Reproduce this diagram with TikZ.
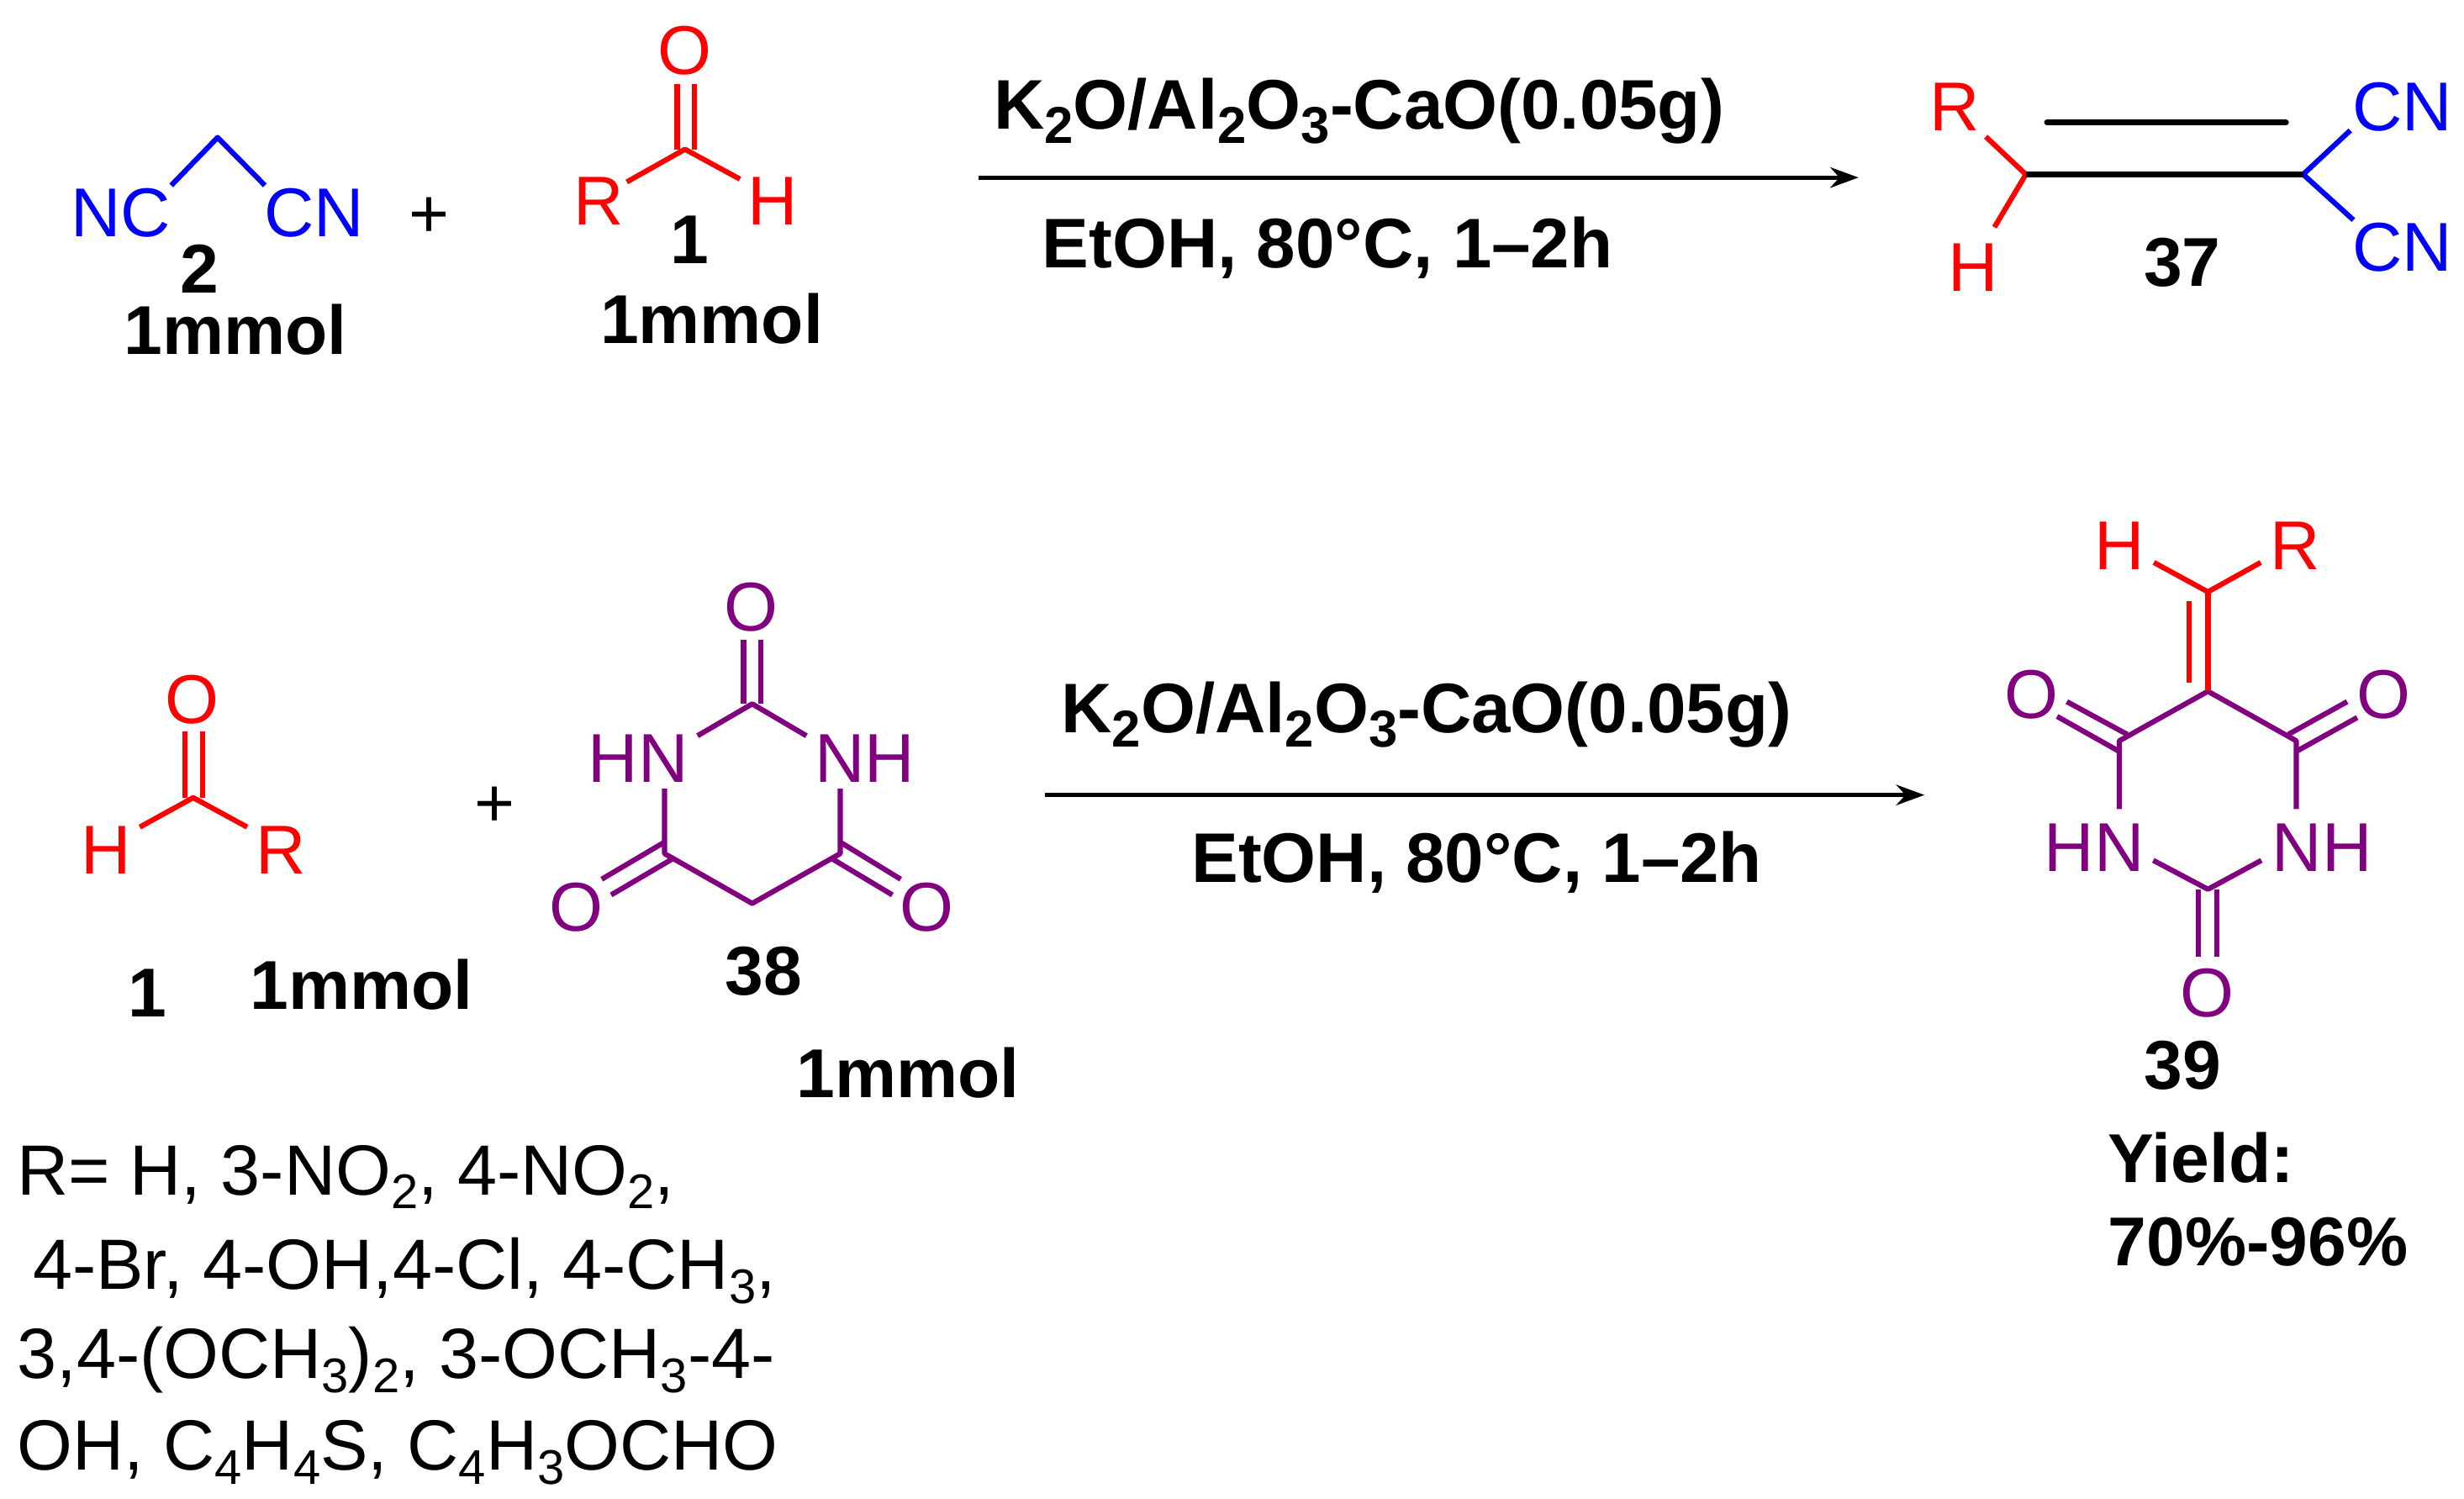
\documentclass[tikz,border=0pt]{standalone}
\usepackage{fontspec}
\setmainfont{Liberation Sans}
\usetikzlibrary{arrows.meta}
\definecolor{molblue}{RGB}{0,0,255}
\definecolor{molred}{RGB}{255,0,0}
\definecolor{molpurple}{RGB}{128,0,128}
\newcommand{\sbs}[1]{\raisebox{-0.2em}{\fontsize{31}{31}\selectfont #1}}
\newcommand{\sbc}[1]{\raisebox{-0.2em}{\fontsize{33}{33}\selectfont #1}}
\tikzset{
  txt/.style={inner sep=0pt,outer sep=0pt,text height=30.8pt,text depth=0pt,font=\fontsize{44}{44}\selectfont},
  bold/.style={txt,font=\fontsize{44}{44}\selectfont\bfseries},
  capn/.style={txt,font=\fontsize{44.7}{44.7}\selectfont\bfseries},
  atomblue/.style={txt,text=molblue},
  atomred/.style={txt,text=molred},
  atompurple/.style={txt,text=molpurple},
  note/.style={txt,anchor=west,font=\fontsize{45.3}{45.3}\selectfont},
  bondblue/.style={draw=molblue,line width=3.3pt,line join=round},
  bondred/.style={draw=molred,line width=3.3pt,line join=round},
  bondpurple/.style={draw=molpurple,line width=3.3pt,line join=round},
  bondblack/.style={draw=black,line width=3.8pt,line cap=round},
  rxn/.style={draw=black,line width=2.8pt,-{Stealth[length=18pt,width=13pt]}}
}
\begin{document}
\begin{tikzpicture}[x=1pt,y=-1pt]
\useasboundingbox (0,0) rectangle (1568.4,953.6);
% --- malononitrile 2
\node[atomblue] (nc) at (77,135) {NC};
\node[atomblue] (cn) at (200,135) {CN};
\coordinate (a1) at (109,118);
\coordinate (a2) at (138.5,87.5);
\coordinate (a3) at (168.6,118);
\draw[bondblue] (a1) -- (a2) -- (a3);
\node[txt] (plusa) at (273,136) {+};
\node[bold] (n2) at (127,171) {2};
\node[bold] (mm1) at (150,210) {1mmol};
% --- aldehyde 1 (top)
\node[atomred] (oa) at (436,32) {O};
\node[atomred] (ra) at (381,128) {R};
\node[atomred] (ha) at (492,128) {H};
\coordinate (ca) at (436,95);
\coordinate (cal) at (431,95);
\coordinate (car) at (442,95);
\coordinate (oal) at (431,53.5);
\coordinate (oar) at (442,53.5);
\coordinate (ra1) at (399,115.8);
\coordinate (ha1) at (471,114);
\draw[bondred] (oal) -- (cal) (oar) -- (car);
\draw[bondred] (ra1) -- (ca) -- (ha1);
\node[bold] (n1a) at (439,152.5) {1};
\node[bold] (mm2) at (453,203) {1mmol};
% --- first reaction arrow
\coordinate (arr1s) at (623,113);
\coordinate (arr1e) at (1183,113);
\draw[rxn] (arr1s) -- (arr1e);
\node[capn] (cat1) at (865,67) {K\sbc{2}O/Al\sbc{2}O\sbc{3}-CaO(0.05g)};
\node[capn] (cond1) at (845,155) {EtOH, 80°C, 1–2h};
% --- product 37
\node[atomred] (r37) at (1244,68) {R};
\node[atomred] (h37) at (1256,170) {H};
\node[atomblue] (cn37a) at (1529,68) {CN};
\node[atomblue] (cn37b) at (1529,157) {CN};
\coordinate (c37l) at (1289.5,111);
\coordinate (c37r) at (1466,111);
\coordinate (d37l) at (1303,78);
\coordinate (d37r) at (1455,78);
\coordinate (r37b) at (1264,87);
\coordinate (h37b) at (1269.5,144.6);
\coordinate (cn37ab) at (1496,83);
\coordinate (cn37bb) at (1498,140);
\draw[bondred] (r37b) -- (c37l) -- (h37b);
\draw[bondblue] (cn37ab) -- (c37r) -- (cn37bb);
\draw[bondblack,line cap=butt] (c37l) -- (c37r);
\draw[bondblack] (d37l) -- (d37r);
\node[bold] (n37) at (1389,167) {37};
% --- aldehyde 1 (bottom)
\node[atomred] (ob) at (122.5,445) {O};
\node[atomred] (hb) at (67.5,541) {H};
\node[atomred] (rb) at (179,541) {R};
\coordinate (cb) at (123,507.7);
\coordinate (cbl) at (117.8,507.7);
\coordinate (cbr) at (129,507.7);
\coordinate (obl) at (117.8,465.4);
\coordinate (obr) at (129,465.4);
\coordinate (hb1) at (89,526.4);
\coordinate (rb1) at (157.3,526.4);
\draw[bondred] (obl) -- (cbl) (obr) -- (cbr);
\draw[bondred] (hb1) -- (cb) -- (rb1);
\node[bold] (n1b) at (94,632) {1};
\node[bold] (mm3) at (230,627) {1mmol};
\node[txt] (plusb) at (315,511) {+};
% --- barbituric acid 38
\node[atompurple] (o38t) at (478,386) {O};
\node[atompurple] (hn38) at (406.3,482.5) {HN};
\node[atompurple] (nh38) at (550.5,482.5) {NH};
\node[atompurple] (o38l) at (367,577) {O};
\node[atompurple] (o38r) at (589.7,577) {O};
\coordinate (c38t) at (478.8,448);
\coordinate (d38a) at (473.3,407.3);
\coordinate (d38b) at (484.3,407.3);
\coordinate (d38c) at (473.3,448);
\coordinate (d38d) at (484.3,448);
\coordinate (b38a) at (444,468.3);
\coordinate (b38b) at (513.3,468.3);
\coordinate (v38l) at (423,502);
\coordinate (v38r) at (534.8,502);
\coordinate (c38l) at (423,543.3);
\coordinate (c38r) at (534.8,543.3);
\coordinate (c38b) at (478.8,575);
\coordinate (e38a) at (423,536);
\coordinate (e38b) at (383,559.6);
\coordinate (e38c) at (427.8,546.8);
\coordinate (e38d) at (389,569.6);
\coordinate (f38a) at (534.8,536);
\coordinate (f38b) at (573.3,559.6);
\coordinate (f38c) at (530,546.8);
\coordinate (f38d) at (568,569.6);
\draw[bondpurple] (d38a) -- (d38c) (d38b) -- (d38d);
\draw[bondpurple] (b38a) -- (c38t) -- (b38b);
\draw[bondpurple] (v38l) -- (c38l) -- (c38b) -- (c38r) -- (v38r);
\draw[bondpurple] (e38a) -- (e38b) (e38c) -- (e38d);
\draw[bondpurple] (f38a) -- (f38b) (f38c) -- (f38d);
\node[bold] (n38) at (486,618) {38};
\node[bold] (mm4) at (578,683) {1mmol};
% --- second reaction arrow
\coordinate (arr2s) at (665,506);
\coordinate (arr2e) at (1225,506);
\draw[rxn] (arr2s) -- (arr2e);
\node[capn] (cat2) at (908,451) {K\sbc{2}O/Al\sbc{2}O\sbc{3}-CaO(0.05g)};
\node[capn] (cond2) at (940,546) {EtOH, 80°C, 1–2h};
% --- product 39
\node[atomred] (h39) at (1349,347) {H};
\node[atomred] (r39) at (1461,347) {R};
\node[atompurple] (o39l) at (1293,442) {O};
\node[atompurple] (o39r) at (1517,442) {O};
\node[atompurple] (hn39) at (1333,539) {HN};
\node[atompurple] (nh39) at (1478,539) {NH};
\node[atompurple] (o39b) at (1405,632) {O};
\coordinate (c39t) at (1405.4,376.7);
\coordinate (c39m) at (1405.4,440);
\coordinate (c39l) at (1349,471.5);
\coordinate (c39r) at (1461.6,471.5);
\coordinate (c39b) at (1405.4,566);
\coordinate (h39b) at (1371,358);
\coordinate (r39b) at (1439,358);
\coordinate (i39a) at (1393.6,382.6);
\coordinate (i39b) at (1393.6,434.4);
\coordinate (v39l) at (1349,515);
\coordinate (v39r) at (1461.6,515);
\coordinate (n39l) at (1370.6,547.6);
\coordinate (n39r) at (1439.4,547.6);
\coordinate (b39a) at (1399.4,566);
\coordinate (b39b) at (1399.4,609);
\coordinate (b39c) at (1411,566);
\coordinate (b39d) at (1411,609);
\coordinate (l39a) at (1315.6,446.6);
\coordinate (l39b) at (1354,467.4);
\coordinate (l39c) at (1309.4,456);
\coordinate (l39d) at (1349,478.3);
\coordinate (r39e) at (1494,446.6);
\coordinate (r39f) at (1456.6,467.4);
\coordinate (r39g) at (1500.4,456.7);
\coordinate (r39i) at (1461.6,478.3);
\draw[bondpurple] (v39l) -- (c39l) -- (c39m) -- (c39r) -- (v39r);
\draw[bondpurple] (n39l) -- (c39b) -- (n39r);
\draw[bondpurple] (b39a) -- (b39b) (b39c) -- (b39d);
\draw[bondpurple] (l39a) -- (l39b) (l39c) -- (l39d);
\draw[bondpurple] (r39e) -- (r39f) (r39g) -- (r39i);
\draw[bondred] (c39m) -- (c39t);
\draw[bondred] (h39b) -- (c39t) -- (r39b);
\draw[bondred] (i39a) -- (i39b);
\node[bold] (n39) at (1389.5,678) {39};
\node[bold,anchor=west] (yl1) at (1342,737) {Yield:};
\node[bold,anchor=west] (yl2) at (1342,790) {70\%-96\%};
% --- substituent list
\node[note] (ln1) at (11,745) {R= H, 3-NO\sbs{2}, 4-NO\sbs{2},};
\node[note] (ln2) at (11,805) {\hspace{10pt}4-Br, 4-OH,4-Cl, 4-CH\sbs{3},};
\node[note] (ln3) at (11,862) {3,4-(OCH\sbs{3})\sbs{2}, 3-OCH\sbs{3}-4-};
\node[note] (ln4) at (11,920) {OH, C\sbs{4}H\sbs{4}S, C\sbs{4}H\sbs{3}OCHO};
\end{tikzpicture}
\end{document}
